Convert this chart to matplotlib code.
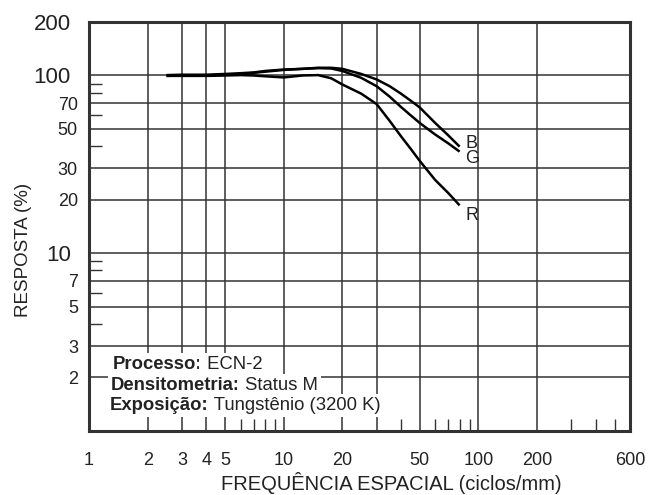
import numpy as np
import matplotlib.pyplot as plt

plt.rcParams['font.family'] = ['Liberation Sans', 'DejaVu Sans']

# spatial frequency (cycles/mm) and response (%)
freq = [2.5, 3, 4, 5, 6, 7, 8, 10, 12.5, 15, 17.5, 20, 25, 30, 35, 40, 45, 50, 60, 70, 80]
resp_b = [100.5, 101, 101, 102, 103, 104, 106, 108, 109, 110.5, 110.5, 109, 102, 95, 87, 79, 72, 66, 54, 46, 39.8]
resp_g = [99.5, 100, 100, 101, 102, 103.5, 105, 107.5, 109, 110, 109.5, 106, 97, 87, 76, 66.5, 59.5, 54, 46.5, 41.5, 37.3]
resp_r = [99.5, 99.5, 99.5, 100, 100.5, 100, 99, 97.5, 100, 100.5, 96.5, 89, 79, 69, 55.5, 45.5, 38.5, 33, 25.8, 21.8, 18.6]
curve_names = ['B', 'G', 'R']

x_tick_labels = [1, 2, 3, 4, 5, 10, 20, 50, 100, 200, 600]
x_grid = [2, 3, 4, 5, 10, 20, 30, 50, 100, 200]
x_minor = [6, 7, 8, 9, 40, 60, 70, 80, 90, 300, 400, 500]
y_tick_labels = [2, 3, 5, 7, 10, 20, 30, 50, 70, 100, 200]
y_big = [10, 100, 200]
y_grid = [2, 3, 5, 7, 10, 20, 30, 50, 70, 100]
y_minor = [4, 6, 8, 9, 40, 60, 80, 90]

info = [("Processo:", "ECN-2"),
        ("Densitometria:", "Status M"),
        ("Exposição:", "Tungstênio (3200 K)")]

dark = '#333333'

fig = plt.figure(figsize=(6.56, 4.95), dpi=100)
ax = fig.add_axes([0.1357, 0.1293, 0.8247, 0.8263])
ax.set_xscale('log')
ax.set_yscale('log')
ax.set_xlim(1, 600)
ax.set_ylim(1, 200)
ax.set_axisbelow(True)

# major ticks: union of labelled values and grid values
xmaj = sorted(set(x_tick_labels) | set(x_grid))
ax.set_xticks(xmaj)
ax.set_xticklabels([str(v) if v in x_tick_labels else '' for v in xmaj])
ax.set_xticks(x_minor, minor=True)
ax.xaxis.set_minor_formatter(plt.NullFormatter())

ymaj = sorted(set(y_tick_labels) | set(y_grid))
ax.set_yticks(ymaj)
ax.set_yticklabels([str(v) if v in y_tick_labels else '' for v in ymaj])
ax.set_yticks(y_minor, minor=True)
ax.yaxis.set_minor_formatter(plt.NullFormatter())

ax.tick_params(which='major', length=0, labelsize=13, colors='#222222')
ax.tick_params(axis='x', which='major', pad=15)
ax.tick_params(which='minor', direction='in', length=9, width=1.0, color=dark)

for v, t in zip(ymaj, ax.yaxis.get_major_ticks()):
    if v in y_big:
        t.label1.set_fontsize(16)
        t.set_pad(13)
    else:
        t.set_pad(8)

for v in x_grid:
    ax.axvline(v, color=dark, lw=1.1, zorder=1)
for v in y_grid:
    ax.axhline(v, color=dark, lw=1.1, zorder=1)

for s in ax.spines.values():
    s.set_linewidth(2.2)
    s.set_color(dark)

offsets = [(4, 2.5), (4, -5), (4, -7)]
for ys, name, off in zip([resp_b, resp_g, resp_r], curve_names, offsets):
    ax.plot(freq, ys, color='black', lw=1.8, zorder=2, solid_capstyle='butt')
    ax.annotate(name, (freq[-1], ys[-1]), xytext=off, textcoords='offset points',
                ha='left', va='center', fontsize=13, color='#222222')

# info block with white background over the grid
ys_txt = [0.162, 0.111, 0.062]
xs_txt = [0.043, 0.041, 0.039]
for (bold, normal), yt, xt in zip(info, ys_txt, xs_txt):
    b = ax.text(xt, yt, bold, transform=ax.transAxes, fontsize=13.3, fontweight='bold',
                va='center', ha='left', color='#222222', zorder=3,
                bbox=dict(facecolor='white', edgecolor='none', pad=2))
    ax.annotate(' ' + normal, xy=(1, 0.5), xycoords=b, va='center', ha='left',
                fontsize=13.3, color='#222222', zorder=3,
                bbox=dict(facecolor='white', edgecolor='none', pad=2))

ax.set_xlabel('FREQUÊNCIA ESPACIAL (ciclos/mm)', fontsize=14.5, color='#222222')
ax.xaxis.set_label_coords(0.558, -0.1)
ax.xaxis.label.set_va('top')
ax.set_ylabel('RESPOSTA (%)', fontsize=13.5, color='#222222')
ax.yaxis.set_label_coords(-0.105, 0.4425)

fig.savefig('out.png', dpi=100)
